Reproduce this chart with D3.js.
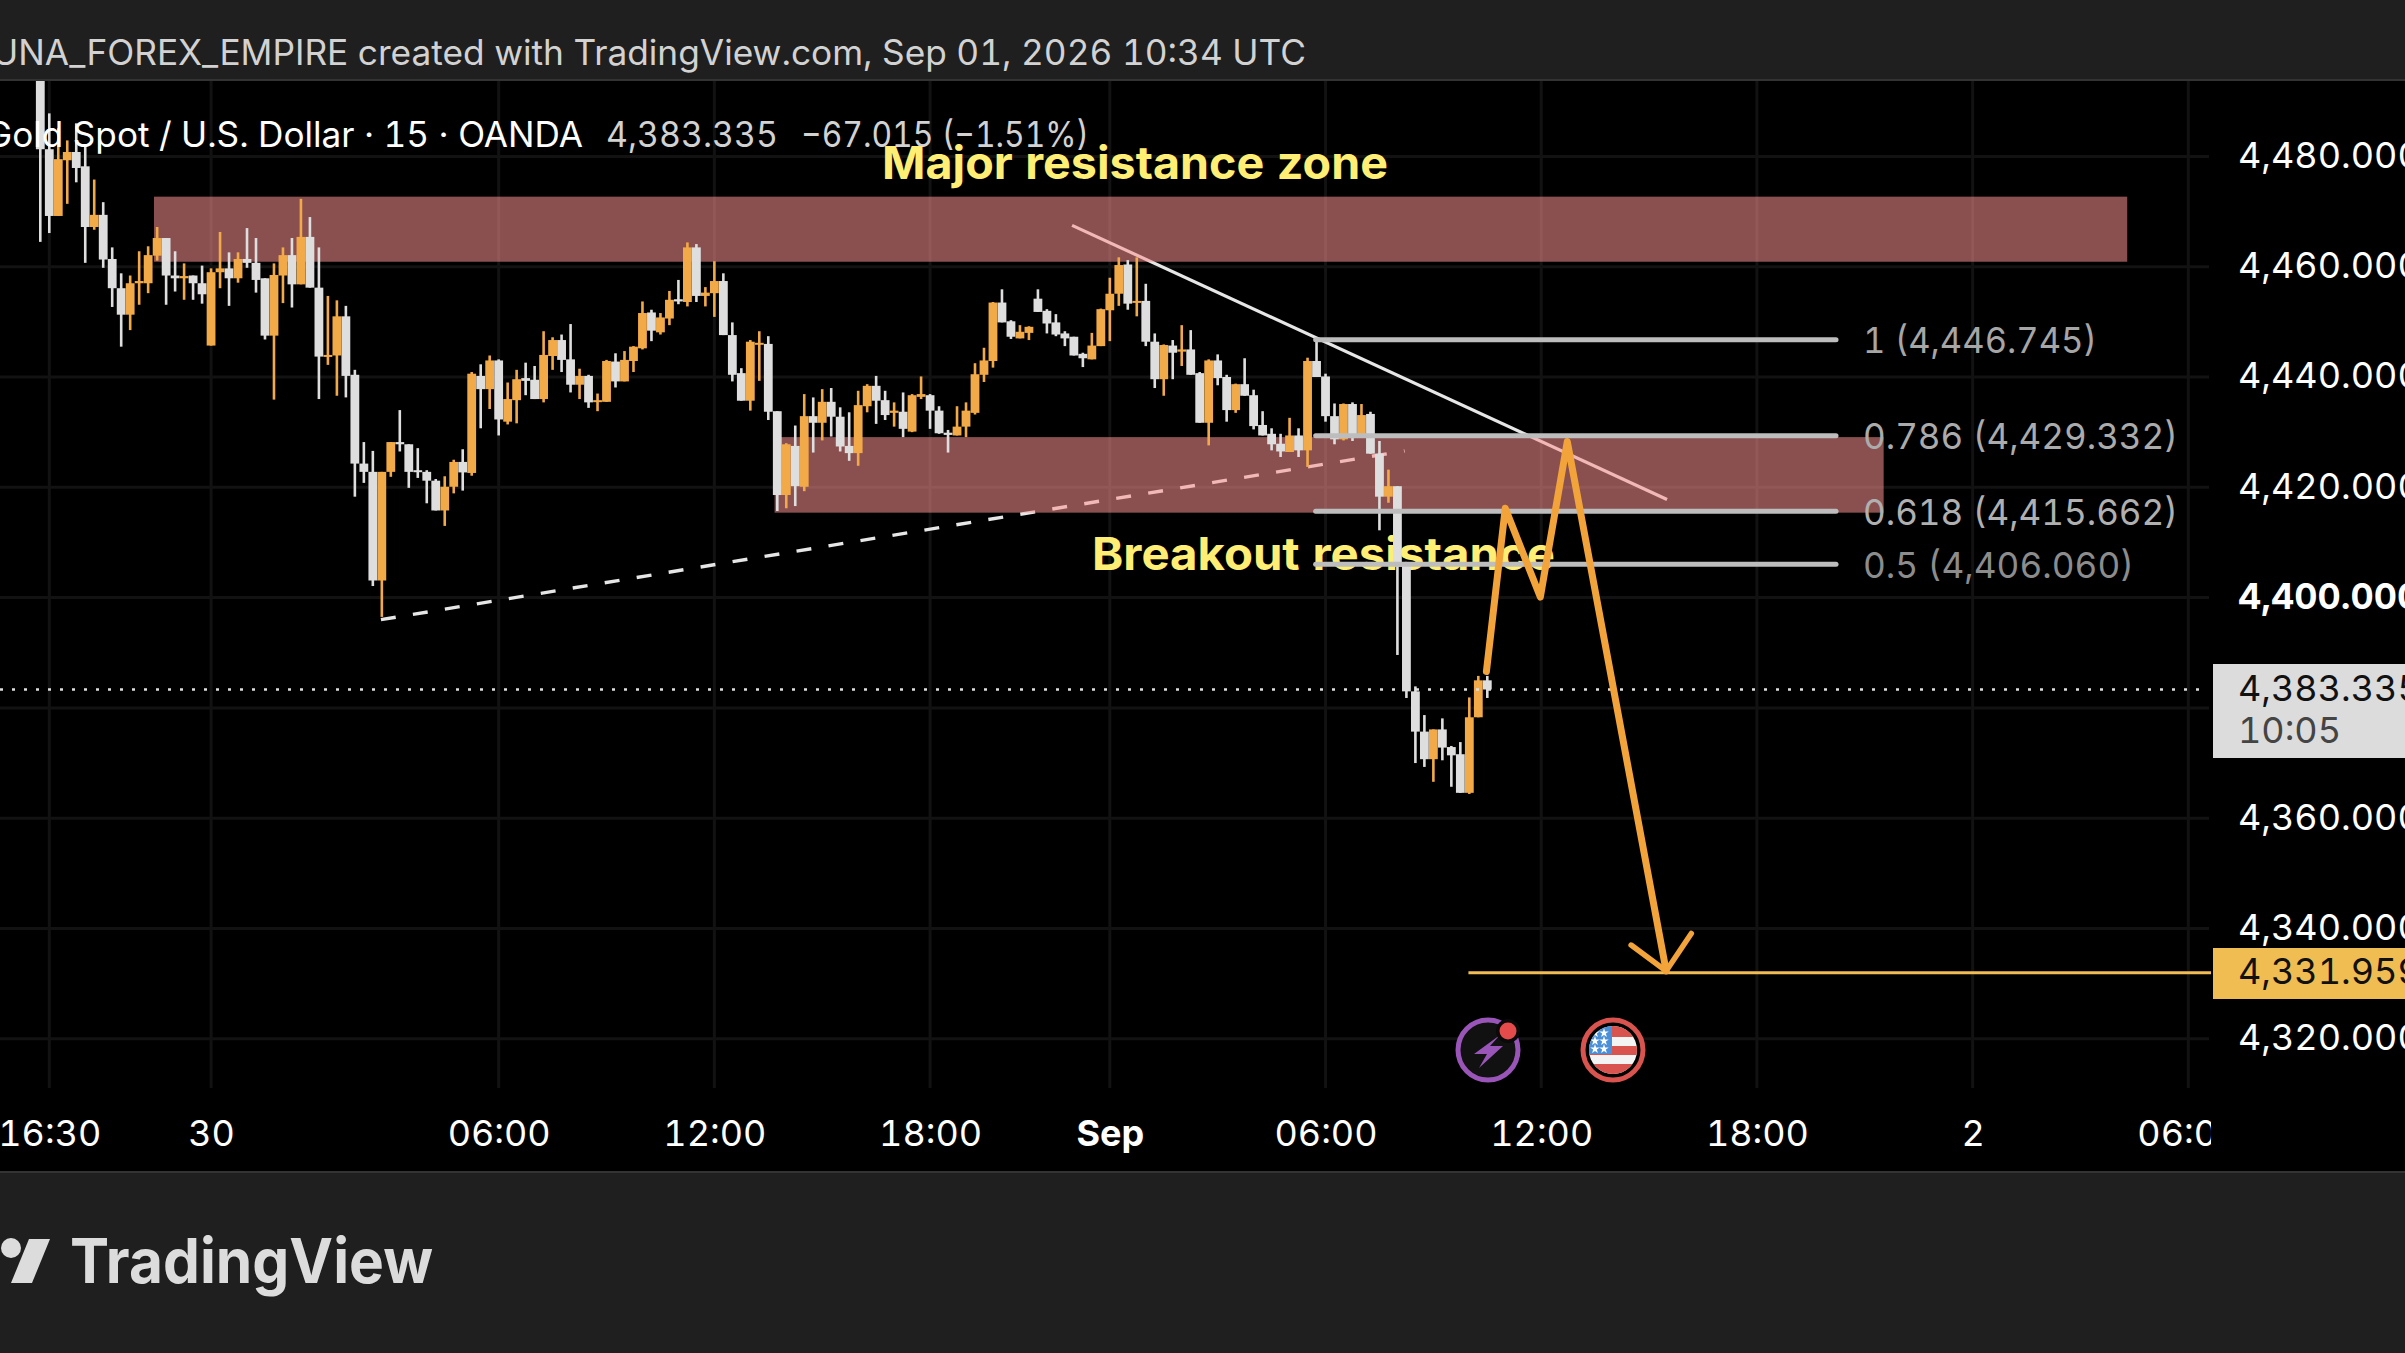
<!DOCTYPE html>
<html><head><meta charset="utf-8">
<style>html,body{margin:0;padding:0;background:#000;overflow:hidden}svg{display:block}text{font-family:Inter,Roboto,sans-serif;font-variant-numeric:tabular-nums}</style>
<script src="https://cdn.jsdelivr.net/npm/d3@7"></script>
</head><body><svg id="c" width="2405" height="1353"></svg>
<script>
const opens=[4500,4481.3,4469.2,4479.3,4480.8,4478.2,4467.2,4469.4,4461.4,4456.1,4451.3,4457,4457,4462,4465.2,4458.4,4457.9,4458.4,4457,4445.7,4459,4459.7,4457.9,4461.4,4460.7,4457.9,4447.5,4458.4,4462.1,4456.8,4465.4,4456.2,4443.7,4443.9,4451,4440.4,4424.3,4422.8,4403.1,4422.8,4428.2,4427.8,4423.1,4422.8,4421.2,4415.8,4420.1,4424.6,4422.6,4440.2,4437.8,4443,4431.9,4435.8,4439.8,4439.5,4436,4443.8,4446.7,4443.2,4438.6,4440.2,4435.5,4435.5,4442.8,4439.2,4442.9,4445.2,4451.7,4448.1,4450.6,4454.1,4453.6,4463.5,4454.7,4455.2,4457.4,4447.6,4440.7,4435.7,4446,4446,4433.8,4418.6,4427.5,4420.1,4432.9,4431.7,4435.5,4432.8,4427.5,4426.2,4434.7,4438.4,4435.8,4433.5,4433.7,4430.1,4436.4,4436.7,4433.9,4429.9,4429.4,4431,4433.5,4440.4,4442.9,4453.5,4450.1,4447,4448,4454.2,4452,4449.9,4447.9,4447.3,4444.2,4443.2,4445.6,4452.1,4455.1,4460.4,4453.5,4453.8,4446.4,4439.6,4445.7,4444.6,4445,4440.7,4431.7,4443,4440,4434,4438.7,4436.7,4431.3,4429.7,4427.9,4426.4,4429.4,4426.7,4442.9,4440.1,4432.9,4428.7,4435.1,4429.4,4433.3,4426.1,4418.3,4420.2,4405.8,4383,4375.7,4370.7,4376.1,4372.9,4371.6,4364.6,4378.3,4385];
const highs=[4501,4487.8,4485.1,4482.9,4486,4481.9,4475.8,4471.7,4463.5,4458.8,4458.4,4462.8,4463.7,4467.2,4465.2,4462.8,4460.6,4458.4,4460.2,4459.7,4466.3,4462.6,4462.6,4467,4465.2,4457.9,4460.6,4463.5,4465.2,4472.3,4469,4463.5,4454.7,4453.9,4452.9,4441.3,4428.2,4426.6,4422.8,4428.2,4434,4427.8,4427.1,4423.1,4421.5,4422,4425,4426.9,4440.9,4442.3,4443.9,4443.2,4439,4441.3,4442.6,4442,4448.3,4447.2,4447.7,4449.6,4441.5,4440.4,4437,4443.1,4444.3,4444.7,4445.6,4453.7,4452.2,4451.6,4455.6,4457.6,4464.4,4464.1,4456.3,4461,4458.8,4449.9,4441.6,4446.7,4448.3,4447.4,4433.8,4428,4431.2,4436.9,4436.3,4437.8,4438,4434.5,4433.6,4437.5,4438.7,4440.2,4437.5,4435.4,4437.2,4436.9,4440.1,4436.9,4434.7,4430.4,4434.7,4435.4,4442.5,4445.3,4453.6,4455.9,4450.3,4449.4,4449.2,4455.9,4452.3,4451.4,4448.3,4447.3,4444.4,4448,4452.4,4458,4461.7,4461.2,4461.7,4456.9,4447.9,4445.9,4446.7,4449.4,4448.5,4440.9,4443.2,4444.1,4440.4,4438.8,4443.4,4437.7,4433.8,4430.7,4429.7,4432.6,4430.7,4443.5,4446.4,4440.6,4435.2,4435.2,4435.4,4435.1,4433.7,4428.4,4423.2,4420.2,4406,4383.9,4378.7,4376.1,4378.1,4373.1,4373.8,4381.9,4385.8,4385.8];
const lows=[4464.5,4466.1,4469.2,4471.4,4475.3,4460.7,4466.7,4459.8,4452.7,4445.5,4448.5,4453.1,4455.2,4461.1,4453.1,4455.5,4454,4454,4453.3,4445.7,4456.1,4452.9,4457.1,4459.8,4455.3,4446.8,4435.9,4453.4,4452.6,4456.8,4456.2,4436,4442.2,4436.6,4436.3,4418.3,4420.8,4402.1,4396.5,4421.9,4426.5,4419.9,4421.7,4417.1,4415.8,4413,4418.9,4419.4,4422.1,4430.7,4434.2,4429.4,4431.4,4431.6,4436.7,4436,4435.4,4441.3,4440.9,4437.2,4436,4434.4,4433.8,4435.5,4438.1,4439.2,4440.9,4445,4446.5,4447.7,4449.4,4453.2,4452.8,4453.6,4452.8,4450.9,4447.6,4439.2,4435.7,4433.9,4439.3,4432.2,4415.7,4416.2,4416.6,4419.3,4426.3,4428.5,4429.2,4426.5,4424.8,4423.9,4433.6,4431.5,4432.2,4431,4429.1,4430,4436,4430.6,4429.7,4426.3,4429.4,4429.1,4433.2,4439.1,4441.7,4449.9,4446.9,4447,4446.7,4451.8,4447.9,4447.4,4445.6,4443.9,4441.8,4443.2,4445.6,4446.5,4452.9,4452.2,4451,4445.6,4438,4436.6,4439.6,4442,4440.4,4431.7,4427.6,4438.5,4431.9,4433.5,4436.6,4430.5,4429.4,4426.7,4425.5,4426.4,4425.5,4423.7,4440,4431.9,4427.8,4428.5,4428.4,4429.4,4426.1,4412.2,4417.2,4389.6,4381.8,4370,4369.3,4366.6,4370.5,4365.7,4364.6,4364.4,4378.3,4381.8];
const closes=[4481.3,4469.2,4479.5,4480.8,4477.9,4467.2,4469.4,4461.3,4456.1,4451.3,4457,4457.4,4462.1,4465.2,4458.4,4457.9,4458.3,4457,4455,4459,4459.7,4457.9,4461.4,4460.7,4457.6,4447.5,4458.5,4462.1,4456.8,4465.4,4456.2,4443.7,4444,4451,4440.2,4424.3,4422.8,4403.1,4422.8,4428.2,4427.8,4422.8,4422.8,4421.2,4415.8,4420.1,4424.6,4422.7,4440.6,4437.8,4443,4432.3,4436,4439.6,4439.3,4436,4444,4446.7,4443.1,4438.6,4440.2,4435.4,4435.8,4442.9,4439.2,4443.1,4445.5,4451.6,4448.4,4450.8,4454,4453.7,4463.5,4454.7,4455.3,4457.4,4447.6,4440.4,4435.7,4446.4,4446.2,4433.7,4418.6,4427.8,4420.2,4432.9,4431.7,4435.5,4432.8,4427.4,4426.2,4434.9,4438.4,4435.7,4433.1,4433.9,4430.6,4436.7,4436.9,4433.9,4429.8,4429.5,4431,4433.9,4440.5,4443,4453.5,4449.9,4447.3,4448.2,4449.1,4451.8,4449.7,4447.7,4447,4443.9,4443.4,4445.7,4452.3,4455.1,4460.3,4453.3,4453.8,4446.4,4439.6,4445.8,4444.4,4445,4440.4,4431.7,4443,4439.8,4434,4438.7,4436.6,4431.1,4429.4,4427.8,4426.5,4429.4,4426.7,4442.9,4440,4432.9,4428.7,4435.1,4429.1,4433.1,4426.1,4418.3,4420.2,4405.6,4383,4375.7,4370.7,4376.1,4372.8,4371.4,4364.6,4378.3,4385,4383.335];

const priceTicks=[4480,4460,4440,4420,4400,4360,4340,4320];
const priceGrid=[4480,4460,4440,4420,4400,4380,4360,4340,4320];
const boldPrice=4400;
const timeIdx=[1,19,51,75,99,119,143,167,191,215,239];
const timeLabels=["16:30","30","06:00","12:00","18:00","Sep","06:00","12:00","18:00","2","06:00"];
const boldTime="Sep";
const fibLevels=[4446.745,4429.332,4415.662,4406.06];
const fibLabels=["1 (4,446.745)","0.786 (4,429.332)","0.618 (4,415.662)","0.5 (4,406.060)"];
const fibColors=["#a6a6a6","#ababab","#b0b0b0","#8c8c8c"];
const fibSpan=[141.9,199.8];
const zoneNames=["Major resistance zone","Breakout resistance"];
const zoneX0=[12.65,81.7], zoneX1=[232.2,205.1], zoneHi=[4472.7,4429.1], zoneLo=[4460.9,4415.4];
const resistLine=[[114.8,4467.5],[181,4417.8]];
const supportLine=[[37.9,4396],[151.8,4426.6]];
const projPath=[[160.9,4386.6],[163,4416.2],[166.9,4400.1],[169.9,4428.3],[180.9,4332.3]];
const arrowWingL=[177,4337], arrowWingR=[183.7,4339.1];
const lastPrice=4383.335, targetPrice=4331.959, targetStart=158.9;

const W=2405,H=1353,plotR=2211,plotTop=81,plotBot=1172,gridBot=1088;
const x=d3.scaleLinear().domain([0,161]).range([40.3,1487.3]);
const y=d3.scaleLinear().domain([4460,4320]).range([266.7,1038.8]);
const svg=d3.select("#c");
const defs=svg.append("defs");
defs.append("clipPath").attr("id","plot").append("rect").attr("x",0).attr("y",plotTop).attr("width",plotR).attr("height",plotBot-plotTop);
defs.append("clipPath").attr("id","flag").append("circle").attr("cx",1613).attr("cy",1050).attr("r",24);

svg.append("rect").attr("width",W).attr("height",H).attr("fill","#000");

// grid
const grid=svg.append("g");
grid.selectAll(".h").data(priceGrid).join("line").attr("x1",0).attr("x2",plotR-2).attr("y1",d=>y(d)).attr("y2",d=>y(d)).attr("stroke","#121212").attr("stroke-width",3);
grid.selectAll(".v").data(timeIdx).join("line").attr("x1",d=>x(d)).attr("x2",d=>x(d)).attr("y1",plotTop).attr("y2",gridBot).attr("stroke","#121212").attr("stroke-width",3);

const plot=svg.append("g").attr("clip-path","url(#plot)");
const line=d3.line().x(d=>x(d[0])).y(d=>y(d[1]));
// trendlines sit under the translucent zones
plot.append("path").attr("d",line(resistLine)).attr("stroke","#e6e6e6").attr("stroke-width",3.2).attr("fill","none");
plot.append("path").attr("d",line(supportLine)).attr("stroke","#e6e6e6").attr("stroke-width",3.4).attr("stroke-dasharray","15 17.4").attr("fill","none");
// zones
plot.selectAll(".z").data(zoneNames).join("rect")
 .attr("x",(d,i)=>x(zoneX0[i])).attr("width",(d,i)=>x(zoneX1[i])-x(zoneX0[i]))
 .attr("y",(d,i)=>y(zoneHi[i])).attr("height",(d,i)=>y(zoneLo[i])-y(zoneHi[i]))
 .attr("fill","#fc9292").attr("fill-opacity",0.55);

// candles
const idx=d3.range(closes.length);
const col=i=>closes[i]>=opens[i]?"#f2aa48":"#dedede";
plot.append("text").attr("x",1092).attr("y",570).attr("font-size",45).attr("font-weight",700).attr("fill","#ffee74").text(zoneNames[1]).attr("textLength",463).attr("lengthAdjust","spacingAndGlyphs");
plot.selectAll(".w").data(idx).join("rect").attr("x",i=>x(i)-1.3).attr("width",2.6)
 .attr("y",i=>y(highs[i])).attr("height",i=>Math.max(1,y(lows[i])-y(highs[i]))).attr("fill",col);
plot.selectAll(".b").data(idx).join("rect").attr("x",i=>x(i)-4.4).attr("width",8.8)
 .attr("y",i=>y(Math.max(opens[i],closes[i]))).attr("height",i=>Math.max(2,Math.abs(y(opens[i])-y(closes[i])))).attr("fill",col);

// fib
plot.selectAll(".f").data(fibLevels).join("line").attr("x1",x(fibSpan[0])).attr("x2",x(fibSpan[1]))
 .attr("y1",d=>y(d)).attr("y2",d=>y(d)).attr("stroke","#bdbdbd").attr("stroke-width",5).attr("stroke-linecap","round");
plot.selectAll(".fl").data(fibLabels).join("text").attr("x",1863).attr("y",(d,i)=>y(fibLevels[i])+13.5).attr("font-size",36)
 .attr("fill",(d,i)=>fibColors[i]).text(d=>d).attr("textLength",(d,i)=>i==0?234:(i==3?271:315)).attr("lengthAdjust","spacingAndGlyphs");

// current price dotted
plot.append("line").attr("x1",0).attr("x2",plotR-4).attr("y1",y(lastPrice)).attr("y2",y(lastPrice)).attr("stroke","#dedede").attr("stroke-width",2.6).attr("stroke-dasharray","3 9");
// target
plot.append("line").attr("x1",x(targetStart)).attr("x2",plotR).attr("y1",y(targetPrice)).attr("y2",y(targetPrice)).attr("stroke","#f0bd55").attr("stroke-width",3);

// legend over candles
const leg=plot.append("g").attr("font-size",35);
leg.append("text").attr("x",-14).attr("y",147).attr("fill","#fff").text("Gold Spot / U.S. Dollar · 15 · OANDA").attr("textLength",597).attr("lengthAdjust","spacingAndGlyphs");
leg.append("text").attr("x",606).attr("y",147).attr("fill","#d2d2d2").text("4,383.335").attr("textLength",172).attr("lengthAdjust","spacingAndGlyphs");
leg.append("text").attr("x",801).attr("y",147).attr("fill","#d2d2d2").text("−67.015 (−1.51%)").attr("textLength",288).attr("lengthAdjust","spacingAndGlyphs");
plot.append("text").attr("x",882).attr("y",179).attr("font-size",45).attr("font-weight",700).attr("fill","#ffee74").text(zoneNames[0]).attr("textLength",506).attr("lengthAdjust","spacingAndGlyphs");

// projection
plot.append("path").attr("d",line(projPath)).attr("stroke","#f2a33a").attr("stroke-width",7).attr("fill","none").attr("stroke-linecap","round").attr("stroke-linejoin","round");
plot.append("path").attr("d",line([arrowWingL,projPath[4],arrowWingR])).attr("stroke","#f2a33a").attr("stroke-width",5.5).attr("fill","none").attr("stroke-linecap","round").attr("stroke-linejoin","round");

// event icons
const ic=svg.append("g");
ic.append("circle").attr("cx",1488).attr("cy",1050).attr("r",30).attr("fill","#111").attr("stroke","#9a55b8").attr("stroke-width",5);
ic.append("path").attr("d","M1500 1035 L1474 1054 L1487 1054 L1479 1068 L1503 1046 L1490 1046 Z").attr("fill","#9a55b8");
ic.append("circle").attr("cx",1508).attr("cy",1031).attr("r",12).attr("fill","#0a0a0a");
ic.append("circle").attr("cx",1508).attr("cy",1031).attr("r",8.5).attr("fill","#e64b4b");
ic.append("circle").attr("cx",1613).attr("cy",1050).attr("r",30).attr("fill","#000").attr("stroke","#d9534f").attr("stroke-width",5);
const fl=ic.append("g").attr("clip-path","url(#flag)");
fl.append("rect").attr("x",1585).attr("y",1025).attr("width",56).attr("height",50).attr("fill","#f4f4f4");
fl.append("rect").attr("x",1585).attr("y",1046).attr("width",56).attr("height",9).attr("fill","#d9534f");
fl.append("rect").attr("x",1585).attr("y",1064).attr("width",56).attr("height",12).attr("fill","#d9534f");
fl.append("rect").attr("x",1612).attr("y",1024).attr("width",28).attr("height",13).attr("fill","#d9534f");
fl.append("rect").attr("x",1585).attr("y",1024).attr("width",27).attr("height",30).attr("fill","#4a90d9");
[[1595,1033],[1604,1033],[1595,1041],[1604,1041],[1595,1049],[1604,1049]].forEach(p=>
 fl.append("path").attr("d",d3.symbol(d3.symbolStar,28)()).attr("transform",`translate(${p[0]},${p[1]})`).attr("fill","#fff"));

// axes
const xAxis=d3.axisBottom(x).tickValues(timeIdx).tickFormat((d,i)=>timeLabels[i]).tickSize(0).tickPadding(0);
const xg=plot.append("g").attr("transform","translate(0,1146)").call(xAxis);
xg.select(".domain").remove();
xg.selectAll("text").attr("dy",0).attr("y",0).attr("fill","#fff").attr("font-size",36).style("font-family","Inter,Roboto,sans-serif")
 .attr("font-weight",d=>timeLabels[timeIdx.indexOf(d)]===boldTime?700:400);

const yAxis=d3.axisRight(y).tickValues(priceTicks).tickFormat(d3.format(",.3f")).tickSize(0).tickPadding(0);
const yg=svg.append("g").attr("transform","translate(2238,0)").call(yAxis);
yg.select(".domain").remove();
yg.selectAll("text").attr("x",0).attr("dy","0.3em").attr("fill","#fff").attr("font-size",36).style("font-family","Inter,Roboto,sans-serif")
 .attr("font-weight",d=>d===boldPrice?700:400);

// price labels
svg.append("rect").attr("x",2213).attr("y",664).attr("width",192).attr("height",94).attr("fill","#dcdcdc");
svg.append("text").attr("x",2238).attr("y",701).attr("font-size",36).attr("fill","#111").text(d3.format(",.3f")(lastPrice));
svg.append("text").attr("x",2238).attr("y",743).attr("font-size",36).attr("fill","#444").text("10:05");
svg.append("rect").attr("x",2213).attr("y",948).attr("width",192).attr("height",51).attr("fill","#f0bd52");
svg.append("text").attr("x",2238).attr("y",984).attr("font-size",36).attr("fill","#111").text(d3.format(",.3f")(targetPrice));

// header & footer
svg.append("rect").attr("width",W).attr("height",plotTop-1).attr("fill","#1f1f1f");
svg.append("rect").attr("y",plotTop-2).attr("width",W).attr("height",2).attr("fill","#333");
svg.append("text").attr("x",-8).attr("y",65).attr("font-size",35).attr("fill","#d2d2d2").text("UNA_FOREX_EMPIRE created with TradingView.com, Sep 01, 2026 10:34 UTC").attr("textLength",1314).attr("lengthAdjust","spacingAndGlyphs");
svg.append("rect").attr("y",plotBot).attr("width",W).attr("height",H-plotBot).attr("fill","#1f1f1f");
svg.append("rect").attr("y",plotBot-1).attr("width",W).attr("height",2).attr("fill","#333");
svg.append("circle").attr("cx",11).attr("cy",1248).attr("r",10).attr("fill","#dcdcdc");
svg.append("path").attr("d","M29 1239 L50 1239 L32 1283 L11 1283 Z").attr("fill","#dcdcdc");
svg.append("text").attr("x",70).attr("y",1283).attr("font-size",62).attr("font-weight",700).attr("fill","#dcdcdc").text("TradingView").attr("textLength",363).attr("lengthAdjust","spacingAndGlyphs");
</script></body></html>
